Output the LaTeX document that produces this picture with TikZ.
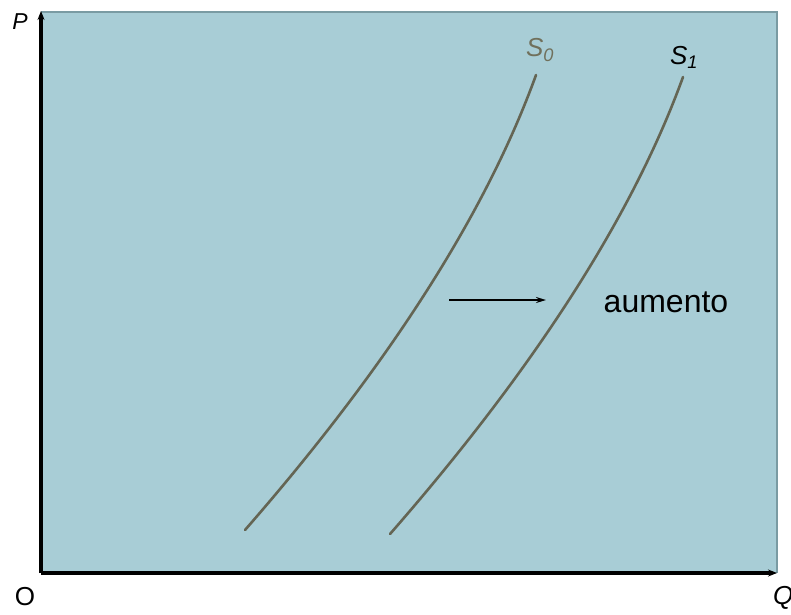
\documentclass[tikz,border=0pt]{standalone}
\usepackage{fontspec}
\setmainfont{Liberation Sans}
\usetikzlibrary{arrows.meta}
\definecolor{bgblue}{RGB}{168,205,214}
\definecolor{edgegray}{RGB}{122,155,163}
\definecolor{curvecol}{RGB}{100,101,84}
\definecolor{szero}{RGB}{112,112,92}
\tikzset{
  axis/.style={line width=3.2pt,-{Stealth[length=9pt,width=7pt]}},
  supply/.style={draw=curvecol,line width=2.6pt,line cap=round},
  shiftarrow/.style={line width=2.4pt,-{Stealth[length=10pt,width=6pt]}},
  lab/.style={font=\fontsize{22}{26}\selectfont\itshape,inner sep=0pt},
  bigtxt/.style={font=\fontsize{32}{36}\selectfont,inner sep=0pt}
}
\begin{document}
\begin{tikzpicture}[x=1pt,y=-1pt]
\useasboundingbox (0,0) rectangle (791,614);
\fill[bgblue] (41,12) rectangle (777,573);
\draw[edgegray,line width=2pt] (41,12) -- (777,12) -- (777,573);
\coordinate (O) at (41,573);
\coordinate (Ptop) at (41,11);
\coordinate (Qend) at (777,573);
\draw[axis] (O) -- (Ptop);
\draw[axis] (O) -- (Qend);
\node[lab,font=\fontsize{23}{26}\selectfont\itshape] (P) at (20,22) {P};
\node[lab,font=\fontsize{26}{28}\selectfont] (Olab) at (25,597) {O};
\node[lab,anchor=west,font=\fontsize{26}{28}\selectfont\itshape] (Q) at (773,598) {Q};
% supply curves
\coordinate (a0) at (245,530);
\coordinate (b0) at (536,75);
\coordinate (a1) at (390,534);
\coordinate (b1) at (683,77);
\draw[supply] (a0) .. controls (389,365) and (486,213) .. (b0);
\draw[supply] (a1) .. controls (535,368) and (633,215) .. (b1);
\node[lab,text=szero,font=\fontsize{26}{28}\selectfont\itshape] (S0) at (540,50) {S\textsubscript{0}};
\node[lab,font=\fontsize{26}{28}\selectfont\itshape] (S1) at (684,57) {S\textsubscript{1}};
% shift arrow
\coordinate (ar0) at (449,300);
\coordinate (ar1) at (546,300);
\draw[shiftarrow] (ar0) -- (ar1);
\node[bigtxt] (aum) at (666,302) {aumento};
\end{tikzpicture}
\end{document}
